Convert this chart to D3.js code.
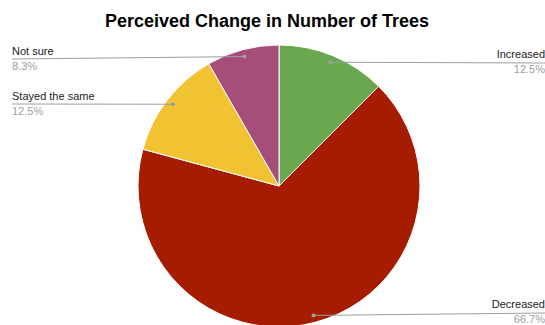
<!DOCTYPE html>
<html>
<head>
<meta charset="utf-8">
<script src="https://cdn.jsdelivr.net/npm/d3@7/dist/d3.min.js"></script>
<style>
  html, body { margin: 0; padding: 0; background: #fff; }
  svg { display: block; font-family: "Liberation Sans", Arial, sans-serif; }
</style>
</head>
<body>
<svg id="chart" width="545" height="325"></svg>
<script>
// Survey answers and their share of responses (%)
const categories = ["Increased", "Decreased", "Stayed the same", "Not sure"];
const shares = [12.5, 66.7, 12.5, 8.3];
const colors = ["#6aa84f", "#a61c00", "#f1c232", "#a64d79"];

const width = 545, height = 325;
const cx = 279, cy = 186, radius = 141;

const svg = d3.select("#chart");

svg.append("text")
  .attr("x", 267).attr("y", 27)
  .attr("text-anchor", "middle")
  .attr("font-size", 18).attr("font-weight", "bold")
  .attr("fill", "#000")
  .text("Perceived Change in Number of Trees");

const data = categories.map((c, i) => ({ name: c, value: shares[i], color: colors[i] }));

const pie = d3.pie().sort(null).value(d => d.value);
const arcs = pie(data);
const arc = d3.arc().innerRadius(0).outerRadius(radius);

const g = svg.append("g").attr("transform", `translate(${cx},${cy})`);

g.selectAll("path.slice")
  .data(arcs)
  .join("path")
  .attr("class", "slice")
  .attr("d", arc)
  .attr("fill", d => d.data.color)
  .attr("stroke", "#fff")
  .attr("stroke-width", 1);

// Leader-line anchors sit just inside the rim at each slice's mid-angle
const anchorArc = d3.arc().innerRadius(radius * 0.95).outerRadius(radius * 0.95);

// Label placement: side of the chart, line end x, text baseline y
const labelLayout = {
  "Increased":       { side: "right", lineX: 545, lineY: 63,  textY: 58 },
  "Decreased":       { side: "right", lineX: 545, lineY: 313, textY: 308 },
  "Stayed the same": { side: "left",  lineX: 12,  lineY: 104, textY: 100 },
  "Not sure":        { side: "left",  lineX: 12,  lineY: 59,  textY: 55 }
};

const fmt = v => v.toFixed(1) + "%";

arcs.forEach(a => {
  const lay = labelLayout[a.data.name];
  const [ax, ay] = anchorArc.centroid(a);
  const px = cx + ax, py = cy + ay;

  svg.append("line")
    .attr("x1", px).attr("y1", py)
    .attr("x2", lay.lineX).attr("y2", lay.lineY)
    .attr("stroke", "#9e9e9e").attr("stroke-width", 1);

  svg.append("circle")
    .attr("cx", px).attr("cy", py).attr("r", 2)
    .attr("fill", "#9e9e9e");

  const anchor = lay.side === "right" ? "end" : "start";
  const tx = lay.side === "right" ? 545 : 12;

  svg.append("text")
    .attr("x", tx).attr("y", lay.textY)
    .attr("text-anchor", anchor)
    .attr("font-size", 11).attr("fill", "#222")
    .text(a.data.name);

  svg.append("text")
    .attr("x", tx).attr("y", lay.textY + 15)
    .attr("text-anchor", anchor)
    .attr("font-size", 11).attr("fill", "#9e9e9e")
    .text(fmt(a.data.value));
});
</script>
</body>
</html>
